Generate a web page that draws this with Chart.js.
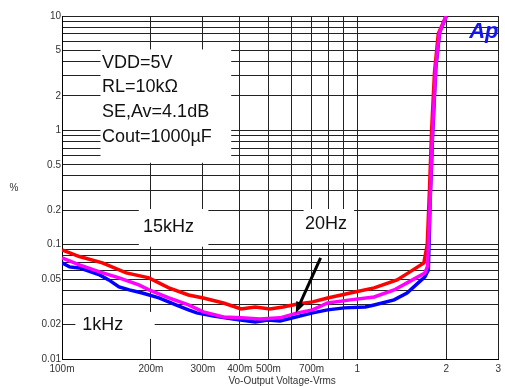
<!DOCTYPE html>
<html>
<head>
<meta charset="utf-8">
<script src="https://cdn.jsdelivr.net/npm/chart.js@4/dist/chart.umd.min.js"></script>
<style>
  html, body { margin: 0; padding: 0; background: #fff; }
  #wrap { width: 505px; height: 387px; }
</style>
</head>
<body>
<div id="wrap"><canvas id="thd"></canvas></div>
<script>
// axis ticks (log-log)
const xTicks = [0.1, 0.2, 0.3, 0.4, 0.5, 0.6, 0.7, 0.8, 0.9, 1, 2, 3];
const xTickLabels = ['100m', '200m', '300m', '400m', '500m', '', '700m', '', '', '1', '2', '3'];
const yTicks = [0.01, 0.02, 0.03, 0.04, 0.05, 0.06, 0.07, 0.08, 0.09,
                0.1, 0.2, 0.3, 0.4, 0.5, 0.6, 0.7, 0.8, 0.9,
                1, 2, 3, 4, 5, 6, 7, 8, 9, 10];
const yTickLabels = ['0.01', '0.02', '', '', '0.05', '', '', '', '',
                     '0.1', '0.2', '', '', '0.5', '', '', '', '',
                     '1', '2', '', '', '5', '', '', '', '', '10'];

// 1kHz (blue)
const x1k = [0.1, 0.106, 0.1145, 0.134, 0.144, 0.156, 0.169, 0.187, 0.213, 0.243, 0.268, 0.286,
             0.326, 0.38, 0.451, 0.498, 0.547, 0.619, 0.706, 0.793, 0.904, 1.064, 1.14, 1.332,
             1.473, 1.693, 1.74, 1.765, 1.8, 1.845, 1.9, 2.0];
const y1k = [0.0693, 0.0639, 0.0626, 0.0544, 0.0492, 0.0427, 0.0402, 0.0378, 0.0342, 0.0297, 0.0269, 0.0253,
             0.0238, 0.0224, 0.0211, 0.0219, 0.0215, 0.0233, 0.0253, 0.0269, 0.028, 0.0285, 0.0297, 0.0329,
             0.0378, 0.0523, 0.06, 0.25, 0.95, 3.6, 7.2, 10];

// 15kHz (red)
const x15k = [0.1, 0.1145, 0.137, 0.165, 0.197, 0.23, 0.268, 0.301, 0.352, 0.404, 0.451, 0.506,
              0.56, 0.628, 0.706, 0.793, 0.947, 1.14, 1.363, 1.507, 1.68, 1.725, 1.755, 1.785,
              1.825, 1.88, 2.0];
const y15k = [0.09, 0.0787, 0.0693, 0.0566, 0.0512, 0.0419, 0.0363, 0.0342, 0.0309, 0.0274, 0.0285, 0.0274,
              0.0285, 0.0303, 0.0316, 0.0342, 0.0378, 0.0419, 0.0492, 0.0578, 0.0693, 0.1, 0.3, 1.0,
              3.2, 7, 10];

// 20Hz (magenta)
const x20 = [0.1, 0.1145, 0.134, 0.156, 0.182, 0.197, 0.23, 0.268, 0.301, 0.352, 0.404, 0.468,
             0.547, 0.628, 0.706, 0.793, 0.947, 1.14, 1.332, 1.473, 1.693, 1.73, 1.764, 1.797,
             1.843, 1.897, 2.0];
const y20 = [0.0766, 0.0666, 0.0578, 0.0512, 0.0445, 0.0402, 0.0342, 0.0297, 0.0258, 0.0233, 0.0229, 0.0224,
             0.0229, 0.0253, 0.0269, 0.0309, 0.0329, 0.0349, 0.0402, 0.0463, 0.0566, 0.065, 0.247, 0.953,
             3.6, 7.16, 10];

function pts(xs, ys) {
    return xs.map((v, i) => ({ x: v, y: ys[i] }));
}

// annotation boxes, in data units
const boxes = [
    { x0: 0.135, x1: 0.374, y0: 5.1, y1: 0.52 },
    { x0: 0.182, x1: 0.313, y0: 0.205, y1: 0.096 },
    { x0: 0.658, x1: 0.975, y0: 0.205, y1: 0.104 },
    { x0: 0.111, x1: 0.206, y0: 0.0258, y1: 0.015 }
];
const notes = [
    { text: 'VDD=5V', x: 0.1365, y: 3.9 },
    { text: 'RL=10k\u03A9', x: 0.1365, y: 2.41 },
    { text: 'SE,Av=4.1dB', x: 0.1365, y: 1.455 },
    { text: 'Cout=1000\u00B5F', x: 0.1365, y: 0.88 },
    { text: '15kHz', x: 0.188, y: 0.142 },
    { text: '20Hz', x: 0.665, y: 0.152 },
    { text: '1kHz', x: 0.117, y: 0.0197 }
];
const arrow = { x0: 0.751, y0: 0.0766, x1: 0.619, y1: 0.0253 };

const annotate = {
    id: 'annotate',
    beforeDatasetsDraw(chart) {
        const { ctx, scales: { x, y } } = chart;
        ctx.save();
        ctx.fillStyle = '#fff';
        boxes.forEach(b => {
            const l = x.getPixelForValue(b.x0), r = x.getPixelForValue(b.x1);
            const t = y.getPixelForValue(b.y0), btm = y.getPixelForValue(b.y1);
            ctx.fillRect(l, t, r - l, btm - t);
        });
        ctx.fillStyle = '#111';
        ctx.font = '18px "Liberation Sans", Arial, sans-serif';
        ctx.textBaseline = 'middle';
        ctx.textAlign = 'left';
        notes.forEach(n => {
            ctx.fillText(n.text, x.getPixelForValue(n.x), y.getPixelForValue(n.y));
        });
        ctx.restore();
    },
    afterDatasetsDraw(chart) {
        const { ctx, chartArea, scales: { x, y } } = chart;
        ctx.save();
        // arrow to the 20Hz curve
        const ax0 = x.getPixelForValue(arrow.x0), ay0 = y.getPixelForValue(arrow.y0);
        const ax1 = x.getPixelForValue(arrow.x1), ay1 = y.getPixelForValue(arrow.y1);
        const ang = Math.atan2(ay1 - ay0, ax1 - ax0);
        const head = 12;
        ctx.strokeStyle = '#000';
        ctx.fillStyle = '#000';
        ctx.lineWidth = 3;
        ctx.beginPath();
        ctx.moveTo(ax0, ay0);
        ctx.lineTo(ax1 - Math.cos(ang) * head * 0.8, ay1 - Math.sin(ang) * head * 0.8);
        ctx.stroke();
        ctx.beginPath();
        ctx.moveTo(ax1, ay1);
        ctx.lineTo(ax1 - head * Math.cos(ang - 0.38), ay1 - head * Math.sin(ang - 0.38));
        ctx.lineTo(ax1 - head * Math.cos(ang + 0.38), ay1 - head * Math.sin(ang + 0.38));
        ctx.closePath();
        ctx.fill();

        // Ap logo
        ctx.fillStyle = '#1414f0';
        ctx.font = 'italic bold 22px "Liberation Sans", Arial, sans-serif';
        ctx.textAlign = 'left';
        ctx.textBaseline = 'alphabetic';
        ctx.fillText('Ap', chartArea.right - 29, chartArea.top + 22);

        // axis titles
        ctx.fillStyle = '#333';
        ctx.font = '10px "Liberation Sans", Arial, sans-serif';
        ctx.textAlign = 'center';
        ctx.textBaseline = 'middle';
        ctx.fillText('Vo-Output Voltage-Vrms', (chartArea.left + chartArea.right) / 2 + 2, 381);
        ctx.fillText('%', 14, (chartArea.top + chartArea.bottom) / 2 + 1);
        ctx.restore();
    }
};

new Chart(document.getElementById('thd'), {
    type: 'line',
    data: {
        datasets: [
            { label: '1kHz', data: pts(x1k, y1k), borderColor: '#0000ff', borderWidth: 3.5, order: 3 },
            { label: '15kHz', data: pts(x15k, y15k), borderColor: '#ff0000', borderWidth: 3.5, order: 2 },
            { label: '20Hz', data: pts(x20, y20), borderColor: '#ff00ff', borderWidth: 3.5, order: 1 }
        ]
    },
    options: {
        responsive: true,
        maintainAspectRatio: false,
        animation: false,
        layout: { padding: { top: 16, right: 3, left: 0, bottom: 0 } },
        elements: { point: { radius: 0 }, line: { tension: 0 } },
        plugins: { legend: { display: false }, tooltip: { enabled: false } },
        scales: {
            x: {
                type: 'logarithmic',
                min: 0.1,
                max: 3,
                afterBuildTicks: s => { s.ticks = xTicks.map(v => ({ value: v })); },
                afterFit: s => { s.height = 28; },
                ticks: {
                    autoSkip: false,
                    maxRotation: 0,
                    padding: 4,
                    color: '#333',
                    font: { family: '"Liberation Sans", Arial, sans-serif', size: 10 },
                    callback: v => xTickLabels[xTicks.indexOf(v)] ?? ''
                },
                grid: { color: '#222', lineWidth: 1, drawTicks: false },
                border: { color: '#000', width: 1 }
            },
            y: {
                type: 'logarithmic',
                min: 0.01,
                max: 10,
                afterBuildTicks: s => { s.ticks = yTicks.map(v => ({ value: v })); },
                afterFit: s => { s.width = 62; },
                ticks: {
                    autoSkip: false,
                    padding: 1,
                    color: '#333',
                    font: { family: '"Liberation Sans", Arial, sans-serif', size: 10 },
                    callback: v => yTickLabels[yTicks.indexOf(v)] ?? ''
                },
                grid: { color: '#222', lineWidth: 1, drawTicks: false },
                border: { color: '#000', width: 1 }
            }
        }
    },
    plugins: [annotate]
});
</script>
</body>
</html>
